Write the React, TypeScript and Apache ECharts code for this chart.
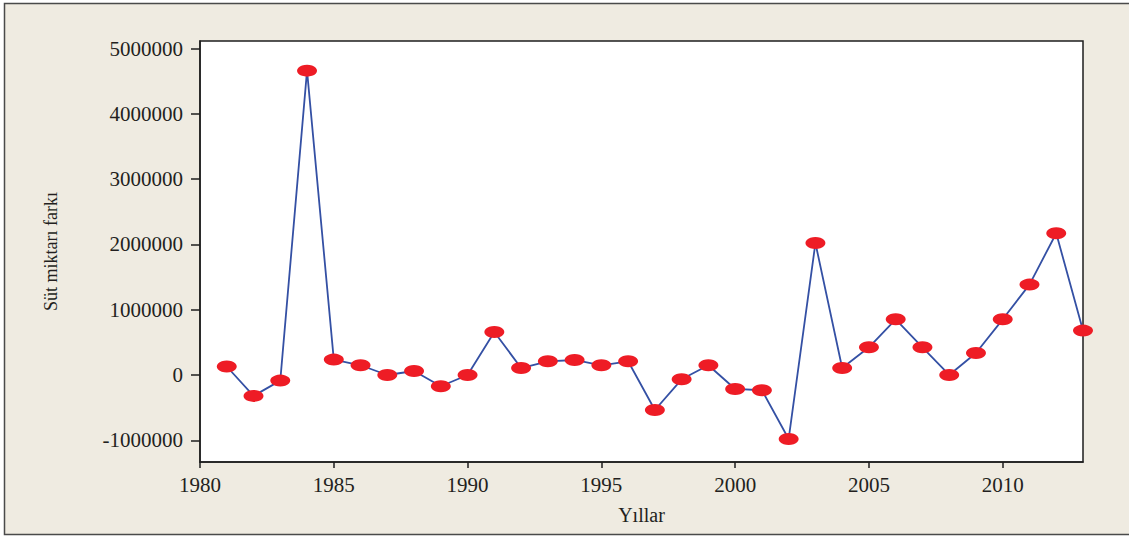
import React, { useEffect, useRef } from "react";
import * as echarts from "echarts";

const years = [1981,1982,1983,1984,1985,1986,1987,1988,1989,1990,1991,1992,1993,1994,1995,1996,1997,1998,1999,2000,2001,2002,2003,2004,2005,2006,2007,2008,2009,2010,2011,2012,2013];
const milkDiff = [130000,-320000,-86000,4663000,236000,149000,0,61000,-173000,0,659000,107000,210000,230000,149000,210000,-536000,-66000,149000,-214000,-234000,-980000,2022000,107000,424000,853000,424000,0,337000,853000,1385000,2171000,680000];
const yTicks = [-1000000,0,1000000,2000000,3000000,4000000,5000000];
const xTicks = [1980,1985,1990,1995,2000,2005,2010];

export default function App() {
  const ref = useRef<HTMLDivElement>(null);
  useEffect(() => {
    if (!ref.current) return;
    const chart = echarts.init(ref.current, null, { renderer: "svg" });
    const font = "Liberation Serif";
    const txt = "#231f20";
    chart.setOption({
      animation: false,
      backgroundColor: "#ffffff",
      graphic: [
        {
          type: "rect",
          z: -10,
          shape: { x: 4.5, y: 3.5, width: 1140, height: 531 },
          style: { fill: "#efebe1", stroke: "#4a4a4a", lineWidth: 1.5 },
        },
      ],
      grid: {
        left: 200,
        top: 41,
        right: 46,
        bottom: 75,
        show: true,
        backgroundColor: "#ffffff",
        borderColor: "#1e1e1e",
        borderWidth: 1.5,
      },
      xAxis: {
        type: "value",
        min: 1980,
        max: 2013,
        name: "Yıllar",
        nameLocation: "middle",
        nameGap: 43,
        nameTextStyle: { fontFamily: font, fontSize: 20, color: txt },
        axisLine: { show: true, onZero: false, lineStyle: { color: "#1e1e1e", width: 1.5 } },
        axisTick: { show: true, length: 6, customValues: xTicks, lineStyle: { color: "#1e1e1e", width: 1.5 } },
        axisLabel: {
          customValues: xTicks,
          margin: 12,
          fontFamily: font,
          fontSize: 21,
          color: txt,
          formatter: (v: number) => String(v),
        },
        splitLine: { show: false },
      },
      yAxis: {
        type: "value",
        min: -1333000,
        max: 5117000,
        name: "Süt miktarı farkı",
        nameLocation: "middle",
        nameGap: 140,
        nameTextStyle: { fontFamily: font, fontSize: 18, color: txt },
        axisLine: { show: true, onZero: false, lineStyle: { color: "#1e1e1e", width: 1.5 } },
        axisTick: { show: true, length: 9, customValues: yTicks, lineStyle: { color: "#1e1e1e", width: 1.5 } },
        axisLabel: {
          customValues: yTicks,
          margin: 17,
          fontFamily: font,
          fontSize: 21,
          color: txt,
          formatter: (v: number) => String(v),
        },
        splitLine: { show: false },
      },
      series: [
        {
          type: "line",
          data: years.map((y, i) => [y, milkDiff[i]]),
          symbol: "circle",
          symbolSize: [20, 12],
          lineStyle: { color: "#3450a4", width: 1.8 },
          itemStyle: { color: "#ee1c25", borderWidth: 0 },
          clip: false,
        },
      ],
    });
    return () => chart.dispose();
  }, []);
  return (
    <div
      ref={ref}
      style={{ position: "fixed", left: 0, top: 0, width: 1129, height: 537 }}
    />
  );
}
